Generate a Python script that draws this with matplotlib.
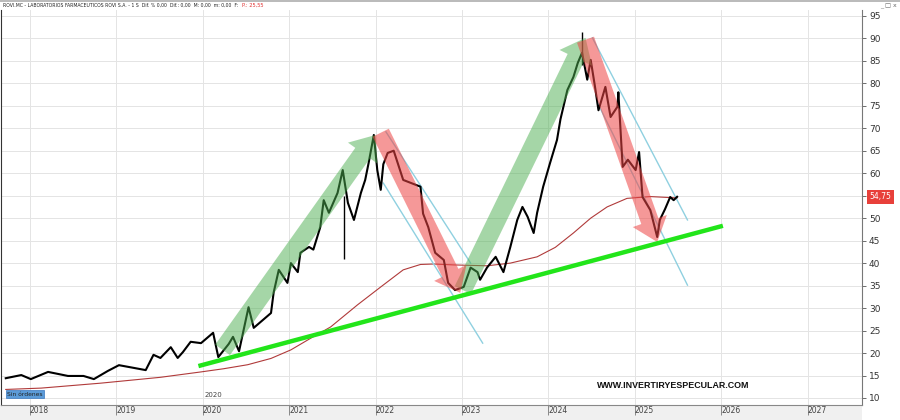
import matplotlib
matplotlib.use("Agg")
import matplotlib.pyplot as plt
from matplotlib.patches import FancyArrowPatch, Rectangle
from matplotlib.transforms import blended_transform_factory

# ---------------- data ----------------
dates = [2017.72, 2017.90, 2018.01, 2018.21, 2018.44, 2018.62, 2018.74, 2018.90,
         2019.03, 2019.20, 2019.34, 2019.43, 2019.51, 2019.63, 2019.71, 2019.77,
         2019.86, 2019.98, 2020.12, 2020.18, 2020.30, 2020.35, 2020.42, 2020.53,
         2020.59, 2020.79, 2020.82, 2020.88, 2020.98, 2021.02, 2021.10, 2021.13,
         2021.23, 2021.28, 2021.36, 2021.40, 2021.46, 2021.56, 2021.62, 2021.68,
         2021.75, 2021.83, 2021.88, 2021.92, 2021.98, 2022.02, 2022.06, 2022.09,
         2022.14, 2022.21, 2022.32, 2022.52, 2022.55, 2022.61, 2022.69, 2022.79,
         2022.84, 2022.92, 2023.02, 2023.10, 2023.18, 2023.21, 2023.29, 2023.39,
         2023.48, 2023.56, 2023.64, 2023.70, 2023.76, 2023.83, 2023.87, 2023.94,
         2024.02, 2024.10, 2024.14, 2024.22, 2024.29, 2024.34, 2024.39, 2024.45,
         2024.49, 2024.54, 2024.58, 2024.66, 2024.72, 2024.80, 2024.81, 2024.86,
         2024.92, 2025.01, 2025.05, 2025.09, 2025.18, 2025.26, 2025.29, 2025.35,
         2025.41, 2025.45, 2025.49]
closes = [14.4, 15.1, 14.2, 15.8, 14.9, 14.9, 14.2, 16.0,
          17.3, 16.7, 16.2, 19.6, 18.9, 21.3, 18.9, 20.2,
          22.5, 22.2, 24.5, 19.1, 22.0, 23.6, 20.4, 30.2,
          25.6, 28.9, 33.4, 38.5, 35.6, 40.0, 38.0, 42.3,
          43.6, 43.0, 48.0, 54.0, 51.2, 55.6, 60.7, 53.4,
          49.6, 55.6, 58.5, 62.3, 68.5, 60.7, 56.3, 62.0,
          64.5, 65.0, 58.5, 57.0, 51.0, 48.0, 42.3, 40.7,
          35.6, 34.0, 34.7, 39.0, 38.0, 36.3, 39.0, 41.4,
          38.0, 43.6, 49.6, 52.5, 50.3, 46.7, 51.2, 57.0,
          62.3, 67.4, 72.0, 78.5, 81.4, 84.5, 86.8, 80.8,
          85.2, 79.2, 74.0, 79.2, 72.5, 74.8, 78.0, 61.4,
          63.0, 60.7, 64.7, 54.7, 51.8, 45.8, 49.6, 52.0,
          54.7, 54.0, 54.75]
spike_dates = [2021.64, 2024.39]
spike_low = [41.0, 84.0]
spike_high = [55.0, 91.4]

ma_dates = [2017.72, 2018.13, 2018.82, 2019.51, 2019.98, 2020.24, 2020.52, 2020.79,
            2021.02, 2021.25, 2021.48, 2021.79, 2022.06, 2022.32, 2022.52, 2022.67,
            2022.90, 2023.29, 2023.56, 2023.87, 2024.08, 2024.29, 2024.49, 2024.68,
            2024.91, 2025.18, 2025.49]
ma_values = [11.9, 12.2, 13.3, 14.6, 15.8, 16.5, 17.4, 18.8,
             20.7, 23.3, 25.8, 30.7, 34.7, 38.5, 39.7, 39.8,
             39.6, 39.4, 40.0, 41.4, 43.5, 46.7, 50.0, 52.5,
             54.4, 54.8, 54.5]

trend_dates = [2019.95, 2026.02]
trend_values = [17.1, 48.3]

channel_up_dates = [[2022.12, 2023.10], [2024.51, 2025.61]]
channel_up_values = [[69.2, 40.0], [90.1, 49.6]]
channel_lo_dates = [[2022.09, 2023.24], [2024.57, 2025.61]]
channel_lo_values = [[57.8, 22.2], [75.6, 35.1]]

green_arrows = [((2020.23, 20.7), (2022.00, 68.5)), ((2023.01, 34.0), (2024.43, 90.1))]
red_arrows = [((2022.06, 69.0), (2022.98, 33.4)), ((2024.43, 89.7), (2025.26, 44.7))]

year_ticks = [2018, 2019, 2020, 2021, 2022, 2023, 2024, 2025, 2026, 2027]
price_ticks = [10, 15, 20, 25, 30, 35, 40, 45, 50, 55, 60, 65, 70, 75, 80, 85, 90, 95]
last_price = 54.75
last_label = "54,75"
header = "ROVI.MC - LABORATORIOS FARMACEUTICOS ROVI S.A. - 1 S  Dif. % 0,00  Dif.: 0,00  M: 0,00  m: 0,00  F:"
header_price = "P.: 25,55"

# ---------------- figure ----------------
W, H = 900, 420
fig = plt.figure(figsize=(W / 100, H / 100), dpi=100, facecolor="white")
ax = fig.add_axes([1 / W, 15 / H, 861 / W, 395 / H])
ax.set_xlim(2017.665, 2027.63)
ax.set_ylim(8.44, 96.3)

# grid
for p in price_ticks:
    ax.axhline(p, color="#e4e4e4", lw=0.7, zorder=0)
for yv in year_ticks:
    ax.axvline(yv, color="#e4e4e4", lw=0.7, zorder=0)

# moving average
ax.plot(ma_dates, ma_values, color="#b03a3a", lw=0.8, zorder=2)

# price series
ax.plot(dates, closes, color="black", lw=1.5, zorder=4)
ax.vlines(spike_dates, spike_low, spike_high, color="black", lw=1.0, zorder=4)

# trend line
ax.plot(trend_dates, trend_values, color="#22e51a", lw=3.2, solid_capstyle="butt", zorder=6)

# channels
for d, v in zip(channel_up_dates, channel_up_values):
    ax.plot(d, v, color="#8fd0e0", lw=1.0, zorder=3)
for d, v in zip(channel_lo_dates, channel_lo_values):
    ax.plot(d, v, color="#8fd0e0", lw=1.0, zorder=3)

# arrows
style = "simple,head_length=16,head_width=26,tail_width=13"
for a, b in green_arrows:
    ax.add_patch(FancyArrowPatch(a, b, arrowstyle=style, mutation_scale=1,
                                 shrinkA=0, shrinkB=0, color="#4caf50",
                                 alpha=0.5, lw=0, zorder=5))
for a, b in red_arrows:
    ax.add_patch(FancyArrowPatch(a, b, arrowstyle=style, mutation_scale=1,
                                 shrinkA=0, shrinkB=0, color="#ee4444",
                                 alpha=0.55, lw=0, zorder=5))

# axes styling
ax.spines["top"].set_visible(False)
ax.spines["left"].set_color("#333333")
ax.spines["right"].set_color("#777777")
ax.spines["bottom"].set_color("#888888")
for s in ax.spines.values():
    s.set_linewidth(0.8)

ax.yaxis.tick_right()
ax.set_yticks(price_ticks)
# the 55 label is hidden behind the last-price tag in the reference
ax.set_yticklabels(["" if p == 55 else str(p) for p in price_ticks])
ax.tick_params(axis="y", direction="out", length=3, width=0.6, colors="#555555",
               labelsize=6.5, pad=2, labelcolor="#333333")
ax.set_xticks(year_ticks)
ax.set_xticklabels([str(y) for y in year_ticks])
ax.tick_params(axis="x", direction="out", length=7, width=0.6, colors="#777777",
               labelsize=5.5, pad=-6, labelcolor="#444444")
for lab in ax.get_xticklabels():
    lab.set_horizontalalignment("left")

# bottom strip
fig.patches.append(Rectangle((0, 0), 862 / W, 15 / H, transform=fig.transFigure,
                             facecolor="#f0f0f0", edgecolor="none", zorder=-1))

# in-chart "2020" label
ax.text(2020.02, 10.6, "2020", fontsize=5, color="#444444", ha="left", va="center")

# Sin órdenes box
ax.text(0.007, 0.027, "Sin órdenes", transform=ax.transAxes, fontsize=4.3,
        color="#222222", ha="left", va="center",
        bbox=dict(boxstyle="square,pad=0.25", facecolor="#5b9bd8", edgecolor="#3a78c0", lw=0.5))

# watermark
ax.text(2025.45, 12.7, "WWW.INVERTIRYESPECULAR.COM", fontsize=6.4, fontweight="bold",
        family="Liberation Sans", color="#111111", ha="center", va="center", zorder=7)

# last price tag
tr = blended_transform_factory(ax.transAxes, ax.transData)
ax.text(1.009, last_price, last_label, transform=tr, fontsize=5.5, color="white",
        ha="left", va="center", clip_on=False,
        bbox=dict(boxstyle="square,pad=0.3", facecolor="#e8403a", edgecolor="none"))

# header text
h1 = fig.text(3 / W, 1 - 5 / H, header, fontsize=3.7, family="DejaVu Sans",
              stretch="condensed", color="#222222", ha="left", va="center")
renderer = fig.canvas.get_renderer()
bb = h1.get_window_extent(renderer=renderer)
fig.text((bb.x1 + 4) / W, 1 - 5 / H, header_price, fontsize=3.7, color="#e03030",
         ha="left", va="center")
fig.text(897 / W, 1 - 6 / H, "_ □ x", fontsize=4.5, color="#666666", ha="right", va="center")
fig.patches.append(Rectangle((0, 1 - 2 / H), 1, 2 / H, transform=fig.transFigure,
                             facecolor="#bbbbbb", edgecolor="none"))

fig.savefig("out.png", dpi=100, facecolor="white")
